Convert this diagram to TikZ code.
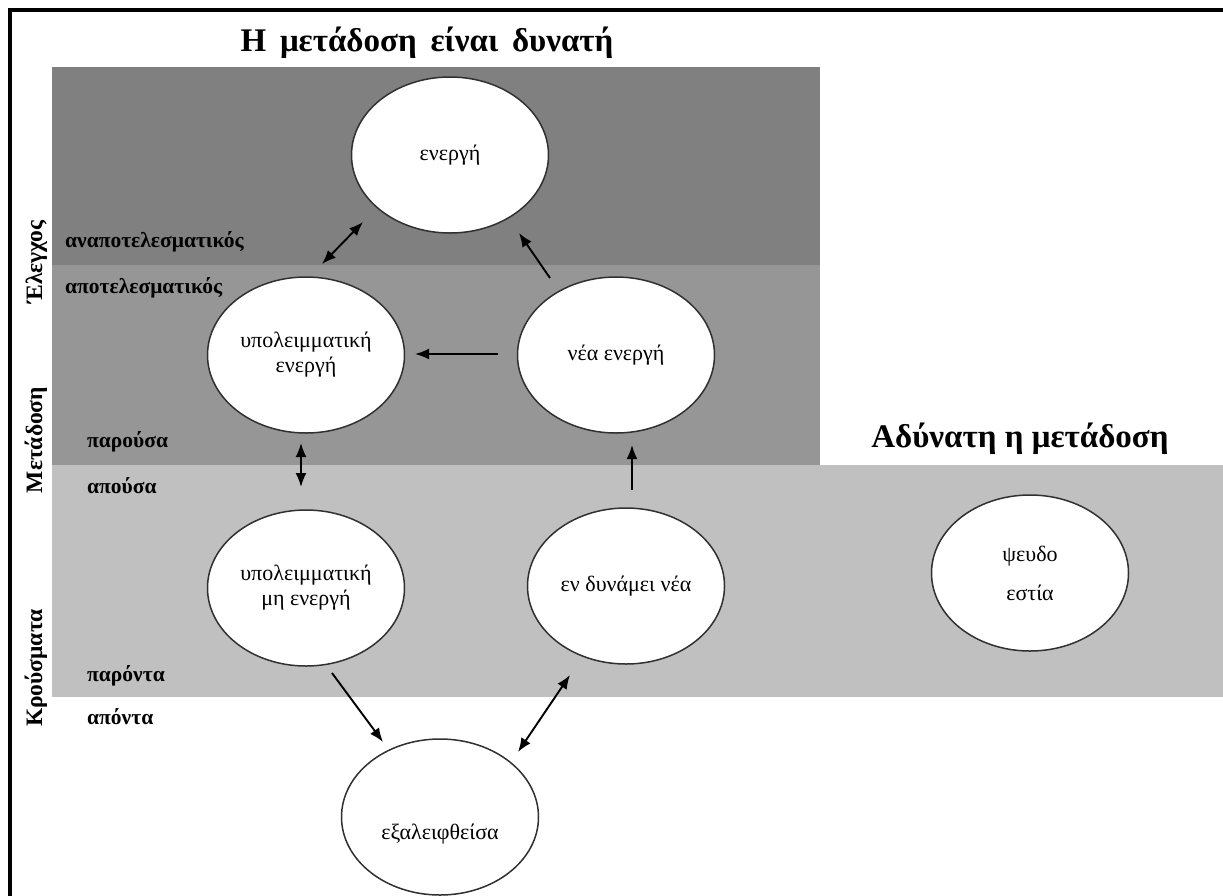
\documentclass[tikz,border=0pt]{standalone}
\usepackage{fontspec}
\setmainfont{Liberation Serif}
\usetikzlibrary{shapes.geometric,arrows.meta}
\definecolor{banddark}{HTML}{808080}
\definecolor{bandmid}{HTML}{969696}
\definecolor{bandlight}{HTML}{C0C0C0}
\definecolor{ellline}{HTML}{303030}
\tikzset{
  ell/.style={ellipse, draw=ellline, line width=1.5pt, fill=white,
    minimum width=197pt, minimum height=156pt, inner sep=0pt,
    font=\fontsize{22}{25}\selectfont, align=center},
  conn/.style={line width=1.9pt, -{Latex[length=14pt,width=11pt]}},
  dconn/.style={line width=1.9pt, {Latex[length=14pt,width=11pt]}-{Latex[length=14pt,width=11pt]}},
  sidelab/.style={font=\bfseries\fontsize{23.5}{26}\selectfont, rotate=90, anchor=base, inner sep=0pt},
  lvl/.style={font=\bfseries\fontsize{21.5}{24}\selectfont, anchor=base west, inner sep=0pt},
  ttl/.style={font=\bfseries\fontsize{33}{36}\selectfont, anchor=base, inner sep=0pt}
}
\begin{document}
\begin{tikzpicture}[x=1pt,y=-1pt]
\useasboundingbox (0,0) rectangle (1223,895);
% frame
\draw[line width=4pt] (10,910) -- (10,10) -- (1240,10);
% bands
\fill[banddark] (52,67) rectangle (820,265);
\fill[bandmid] (52,265) rectangle (820,465);
\fill[bandlight] (52,465) rectangle (1223,697);
% titles
\node[ttl] (t1) at (427,51) {Η\, μετάδοση\, είναι\, δυνατή};
\node[ttl] (t2) at (1020,447) {Αδύνατη η μετάδοση};
% side labels
\node[sidelab] (s1) at (42,262) {Έλεγχος};
\node[sidelab] (s2) at (42,440) {Μετάδοση};
\node[sidelab] (s3) at (42,668) {Κρούσματα};
% level labels
\node[lvl] (l1) at (65,247) {αναποτελεσματικός};
\node[lvl] (l2) at (65,293) {αποτελεσματικός};
\node[lvl] (l3) at (87,447) {παρούσα};
\node[lvl] (l4) at (87,493) {απούσα};
\node[lvl] (l5) at (87,681) {παρόντα};
\node[lvl] (l6) at (87,724) {απόντα};
% ellipses
\node[ell] (en) at (450,155) {ενεργή};
\node[ell] (ye) at (306,355) {υπολειμματική\\ενεργή};
\node[ell] (ne) at (616,355) {νέα ενεργή};
\node[ell] (ym) at (306,588) {υπολειμματική\\μη ενεργή};
\node[ell] (dn) at (626,586) {εν δυνάμει νέα};
\node[ell, font=\fontsize{22}{39}\selectfont] (ps) at (1030,573) {ψευδο\\εστία};
\node[ell, text depth=0pt] (ex) at (440,817) {\raisebox{-22pt}{εξαλειφθείσα}};
% arrow end points
\coordinate (a1s) at (322,264); \coordinate (a1e) at (363,222);
\coordinate (a2s) at (550,278); \coordinate (a2e) at (519,233);
\coordinate (a3s) at (498,354); \coordinate (a3e) at (415,354);
\coordinate (a4s) at (301,443); \coordinate (a4e) at (301,487);
\coordinate (a5s) at (632,490); \coordinate (a5e) at (632,445);
\coordinate (a6s) at (332,673); \coordinate (a6e) at (383,742);
\coordinate (a7s) at (518,752); \coordinate (a7e) at (570,675);
% connectors
\draw[dconn] (a1s) -- (a1e);
\draw[conn] (a2s) -- (a2e);
\draw[conn] (a3s) -- (a3e);
\draw[dconn] (a4s) -- (a4e);
\draw[conn] (a5s) -- (a5e);
\draw[conn] (a6s) -- (a6e);
\draw[dconn] (a7s) -- (a7e);
\end{tikzpicture}
\end{document}
